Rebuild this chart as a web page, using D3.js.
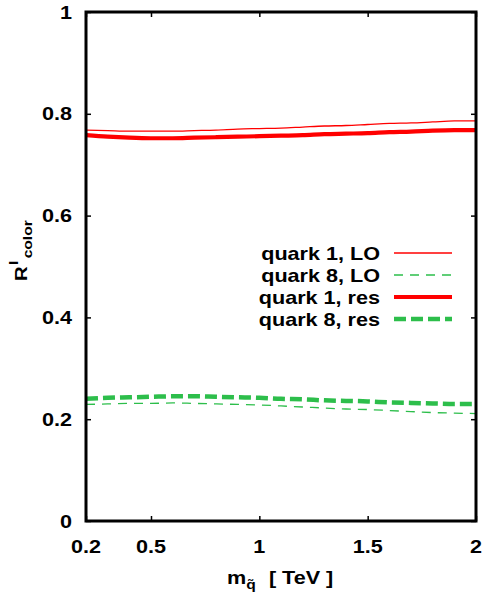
<!DOCTYPE html>
<html><head><meta charset="utf-8">
<script src="https://cdn.jsdelivr.net/npm/d3@7"></script>
<style>body{margin:0;background:#fff}svg{display:block;font-family:"Liberation Sans",Arial,sans-serif;font-weight:bold}</style>
</head><body><svg id="c" width="485" height="596"></svg>
<script>
const masses = [0.2,0.3,0.4,0.5,0.6,0.7,0.8,0.9,1.0,1.1,1.2,1.3,1.4,1.5,1.6,1.7,1.8,1.9,2.0];
const quark1LO  = [0.768,0.767,0.766,0.766,0.766,0.767,0.768,0.770,0.771,0.772,0.774,0.776,0.777,0.779,0.781,0.782,0.784,0.786,0.786];
const quark8LO  = [0.229,0.230,0.231,0.231,0.232,0.231,0.230,0.229,0.228,0.226,0.224,0.222,0.220,0.219,0.217,0.215,0.213,0.212,0.211];
const quark1res = [0.758,0.755,0.753,0.752,0.752,0.753,0.754,0.755,0.756,0.757,0.758,0.760,0.761,0.762,0.764,0.765,0.767,0.768,0.768];
const quark8res = [0.240,0.242,0.243,0.244,0.245,0.245,0.244,0.243,0.242,0.240,0.239,0.237,0.236,0.235,0.233,0.232,0.231,0.230,0.230];
const xTicks = [0.2,0.5,1,1.5,2];
const xTickLabels = ["0.2","0.5","1","1.5","2"];
const yTicks = [0,0.2,0.4,0.6,0.8,1];
const yTickLabels = ["0","0.2","0.4","0.6","0.8","1"];
const seriesNames = ["quark 1, LO","quark 8, LO","quark 1, res","quark 8, res"];

const red = "#ff0000", green = "#2dbe4b";
const series = [
  {name:seriesNames[0], vals:quark1LO,  color:red,   w:1.3, dash:null},
  {name:seriesNames[1], vals:quark8LO,  color:green, w:1.3, dash:"9,7"},
  {name:seriesNames[2], vals:quark1res, color:red,   w:4.2, dash:null},
  {name:seriesNames[3], vals:quark8res, color:green, w:4.5, dash:"12,5"}
];

const L=86,R=476,T=12,B=521;
const SX = 1.2; // horizontal stretch of the reference font
const svg = d3.select("#c");
const x = d3.scaleLinear().domain([0.2,2]).range([L,R]);
const y = d3.scaleLinear().domain([0,1]).range([B,T]);

function stext(parent, px, py, anchor, size, str){
  return parent.append("text")
    .attr("transform",`translate(${px},${py}) scale(${SX},1)`)
    .attr("text-anchor",anchor).attr("font-size",size).attr("fill","#000").text(str);
}

// curves
const line = d3.line().x((d,i)=>x(masses[i])).y(d=>y(d)).curve(d3.curveMonotoneX);
svg.append("g").selectAll("path").data(series).join("path")
  .attr("d",d=>line(d.vals)).attr("fill","none")
  .attr("stroke",d=>d.color).attr("stroke-width",d=>d.w)
  .attr("stroke-dasharray",d=>d.dash);

// axes with inward ticks (labels drawn separately)
const tl = 5;
const styleAxis = g=>{g.select(".domain").remove();g.selectAll("text").remove();g.selectAll("line").attr("stroke-width",1.5);};
svg.append("g").attr("transform",`translate(0,${B})`).call(d3.axisBottom(x).tickValues(xTicks).tickSize(-tl)).call(styleAxis);
svg.append("g").attr("transform",`translate(0,${T})`).call(d3.axisTop(x).tickValues(xTicks).tickSize(-tl)).call(styleAxis);
svg.append("g").attr("transform",`translate(${L},0)`).call(d3.axisLeft(y).tickValues(yTicks).tickSize(-tl)).call(styleAxis);
svg.append("g").attr("transform",`translate(${R},0)`).call(d3.axisRight(y).tickValues(yTicks).tickSize(-tl)).call(styleAxis);

const lab = svg.append("g");
xTicks.forEach((v,i)=>stext(lab, x(v), 553, "middle", 18, xTickLabels[i]));
yTicks.forEach((v,i)=>stext(lab, 72, y(v)+6.5, "end", 18, yTickLabels[i]));

// frame
svg.append("rect").attr("x",L).attr("y",T).attr("width",R-L).attr("height",B-T)
  .attr("fill","none").attr("stroke","#000").attr("stroke-width",3);

// legend
const lg = svg.append("g");
series.forEach((s,i)=>{
  const yy = 253 + i*22;
  stext(lg, 380, yy+7, "end", 18, s.name);
  lg.append("line").attr("x1",394).attr("x2",452).attr("y1",yy).attr("y2",yy)
    .attr("stroke",s.color).attr("stroke-width",s.w).attr("stroke-dasharray",s.dash);
});

// x label
const xl = svg.append("text").attr("transform",`translate(227,584) scale(${SX},1)`).attr("font-size",18);
xl.append("tspan").text("m");
xl.append("tspan").attr("font-size",13).attr("dy",5).text("q\u0303");
xl.append("tspan").attr("dy",-5).attr("dx",11).text("[ TeV ]");

// y label
const yl = svg.append("text").attr("transform",`translate(27,281) rotate(-90) scale(${SX},1)`).attr("font-size",17);
yl.append("tspan").text("R");
yl.append("tspan").attr("font-size",13).attr("dy",-9).attr("dx",1).text("l");
yl.append("tspan").attr("font-size",13).attr("dy",14).attr("dx",2).text("color");
</script></body></html>
